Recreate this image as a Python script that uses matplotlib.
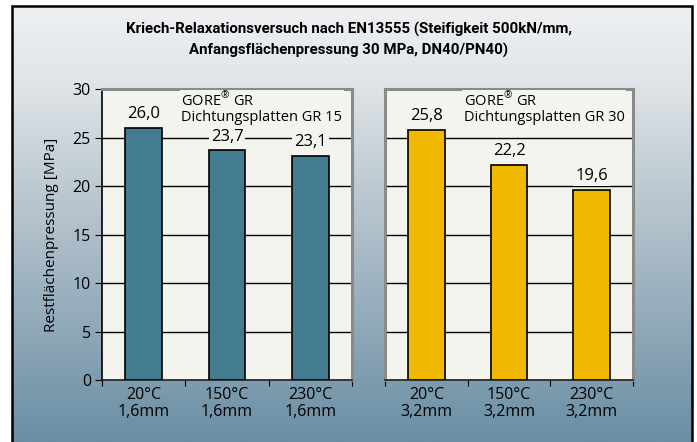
import numpy as np
import matplotlib
matplotlib.use("Agg")
import matplotlib.pyplot as plt
from matplotlib.colors import LinearSegmentedColormap
from matplotlib.patches import Rectangle

# ---- data ----
title = ("Kriech-Relaxationsversuch nach EN13555 (Steifigkeit 500kN/mm,\n"
         "Anfangsflächenpressung 30 MPa, DN40/PN40)")
ylabel = "Restflächenpressung [MPa]"
labels_gr15 = ["20°C\n1,6mm", "150°C\n1,6mm", "230°C\n1,6mm"]
labels_gr30 = ["20°C\n3,2mm", "150°C\n3,2mm", "230°C\n3,2mm"]
values_gr15 = [26.0, 23.7, 23.1]
values_gr30 = [25.8, 22.2, 19.6]
name_gr15 = "GORE$^{®}$ GR\nDichtungsplatten GR 15"
name_gr30 = "GORE$^{®}$ GR\nDichtungsplatten GR 30"
yticks = [0, 5, 10, 15, 20, 25, 30]

plt.rcParams["font.family"] = ["Open Sans", "DejaVu Sans"]
plt.rcParams["mathtext.fontset"] = "custom"
plt.rcParams["mathtext.rm"] = "Open Sans"

fig = plt.figure(figsize=(6.97, 4.42), dpi=100)
fig.patch.set_facecolor("white")

# background gradient inside the frame
bg = fig.add_axes([12 / 697, 0, 680 / 697, 436 / 442], zorder=-10)
cmap = LinearSegmentedColormap.from_list(
    "bg", [(0, "#eef0f2"), (0.15, "#e3e7ea"), (0.45, "#b9c6cf"), (1, "#6a8ea4")])
grad = np.linspace(0, 1, 256).reshape(-1, 1)
bg.imshow(grad, aspect="auto", cmap=cmap, extent=[0, 1, 1, 0])
bg.set_axis_off()
fig.patches.append(Rectangle((12 / 697, -0.01), 680 / 697, 436 / 442 + 0.01,
                             transform=fig.transFigure, fill=False,
                             edgecolor="black", linewidth=1.8, zorder=5))

fig.text(0.5, 1 - 40 / 442, title, ha="center", va="center", fontsize=10.8,
         fontweight="bold", linespacing=1.55, family=["Roboto", "DejaVu Sans"])

ax1 = fig.add_axes([102 / 697, 1 - 380 / 442, 250 / 697, 291 / 442])
ax2 = fig.add_axes([385 / 697, 1 - 380 / 442, 248 / 697, 291 / 442])


def draw_panel(ax, cats, vals, name, color, show_y):
    x = np.arange(len(vals))
    ax.set_facecolor("#f4f4ef")
    ax.set_xlim(-0.5, len(vals) - 0.5)
    ax.set_ylim(0, 30)
    ax.set_yticks(yticks)
    ax.yaxis.grid(True, color="black", linewidth=1.0, zorder=0)
    ax.set_axisbelow(True)
    ax.bar(x, vals, width=0.44, color=color, edgecolor="black",
           linewidth=1.2, zorder=3)
    for xi, v in zip(x, vals):
        ax.annotate(f"{v:.1f}".replace(".", ","), (xi, v), xytext=(0, 4),
                    textcoords="offset points", ha="center", va="bottom",
                    fontsize=12, zorder=4,
                    bbox=dict(facecolor="#f4f4ef", edgecolor="none", pad=1.5))
    ax.text(0.45, 29.7, name, ha="left", va="top", fontsize=10.5,
            linespacing=0.95, zorder=5,
            bbox=dict(facecolor="#f4f4ef", edgecolor="none", pad=1))
    # category boundaries as major ticks, labels on minor ticks
    ax.set_xticks(np.arange(len(vals) + 1) - 0.5)
    ax.set_xticklabels([])
    ax.set_xticks(x, minor=True)
    ax.set_xticklabels(cats, minor=True, fontsize=11.5, linespacing=1.1)
    ax.tick_params(axis="x", which="major", length=4, color="black")
    ax.tick_params(axis="x", which="minor", length=0, pad=5)
    for s in ["top", "right"]:
        ax.spines[s].set_color("#8a8a8a")
        ax.spines[s].set_linewidth(2.2)
    ax.spines["bottom"].set_color("#222222")
    ax.spines["bottom"].set_linewidth(1.2)
    if show_y:
        ax.spines["left"].set_color("black")
        ax.spines["left"].set_linewidth(1.2)
        ax.tick_params(axis="y", length=5, labelsize=11.5, pad=3)
    else:
        ax.spines["left"].set_color("#8a8a8a")
        ax.spines["left"].set_linewidth(2.2)
        ax.tick_params(axis="y", length=0, labelleft=False)


draw_panel(ax1, labels_gr15, values_gr15, name_gr15, "#437b90", True)
draw_panel(ax2, labels_gr30, values_gr30, name_gr30, "#f0b800", False)
ax1.set_ylabel(ylabel, fontsize=11, labelpad=10)

fig.savefig("out.png", dpi=100)
